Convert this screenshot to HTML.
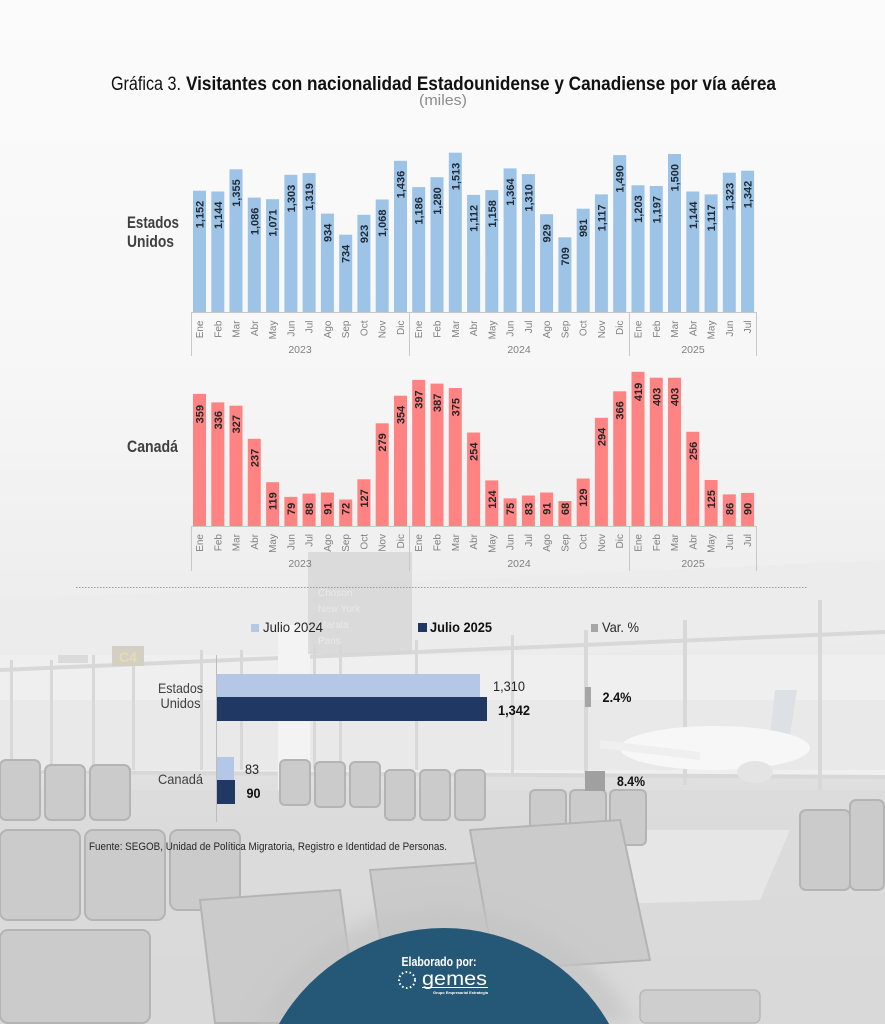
<!DOCTYPE html>
<html><head><meta charset="utf-8">
<style>
html,body{margin:0;padding:0;background:#f8f8f8;width:885px;height:1024px;overflow:hidden;}
svg{display:block;font-family:"Liberation Sans",sans-serif;}
</style></head>
<body>
<svg width="885" height="1024" viewBox="0 0 885 1024" xmlns="http://www.w3.org/2000/svg" overflow="hidden">
<defs>
<linearGradient id="bg" x1="0" y1="0" x2="0" y2="1">
<stop offset="0" stop-color="#fbfbfb"/>
<stop offset="0.35" stop-color="#f7f7f7"/>
<stop offset="0.55" stop-color="#efefef"/>
<stop offset="0.63" stop-color="#ebebeb"/>
<stop offset="0.78" stop-color="#dedede"/>
<stop offset="1" stop-color="#d6d6d6"/>
</linearGradient>
<filter id="blur" x="-20%" y="-20%" width="140%" height="140%"><feGaussianBlur stdDeviation="9"/></filter>
<clipPath id="frame"><rect x="0" y="0" width="885" height="1024"/></clipPath>
</defs>
<g clip-path="url(#frame)">
<rect x="0" y="0" width="885" height="1024" fill="url(#bg)"/>

<!-- photo approximation -->
<polygon points="0,600 885,560 885,640 0,680" fill="#ececec"/>
<rect x="0" y="655" width="885" height="120" fill="#efefef"/>
<rect x="0" y="700" width="885" height="70" fill="#e9e9e9"/>
<g fill="#d8d8d8">
<rect x="10" y="660" width="3" height="110"/><rect x="50" y="660" width="3" height="110"/>
<rect x="92" y="655" width="3" height="115"/><rect x="132" y="655" width="3" height="115"/>
<rect x="200" y="650" width="3" height="120"/><rect x="240" y="650" width="3" height="120"/>
<rect x="313" y="645" width="3" height="125"/><rect x="339" y="645" width="3" height="125"/>
<rect x="415" y="640" width="3" height="130"/><rect x="511" y="635" width="3" height="140"/>
<rect x="584" y="630" width="4" height="150"/><rect x="683" y="620" width="4" height="165"/>
<rect x="818" y="600" width="4" height="190"/>
<polygon points="0,668 885,630 885,634 0,672"/>
<polygon points="0,770 885,775 885,779 0,774"/>
</g>
<rect x="278" y="625" width="32" height="165" fill="#f3f3f3"/>
<rect x="308" y="552" width="104" height="102" fill="#d6d6d6" opacity="0.8"/>
<g fill="#e9e9e9" font-size="10">
<text x="318" y="596">Choson</text><text x="318" y="612">New York</text>
<text x="318" y="628">Marala</text><text x="318" y="644">Paris</text>
</g>
<rect x="112" y="646" width="32" height="20" fill="#d3cfc2"/>
<text x="128" y="662" font-size="14" font-weight="bold" fill="#e6dcb4" text-anchor="middle">C4</text>
<rect x="58" y="655" width="30" height="8" fill="#dadada"/>
<!-- airplane -->
<polygon points="775,690 797,690 790,735 770,738" fill="#dde0e4"/>
<ellipse cx="715" cy="748" rx="95" ry="22" fill="#f7f7f7"/>
<ellipse cx="755" cy="772" rx="18" ry="11" fill="#e4e4e4"/>
<polygon points="600,740 700,752 700,760 600,748" fill="#efefef"/>
<!-- floor / chairs -->
<rect x="0" y="790" width="885" height="234" fill="#dadada" opacity="0.6"/>
<polygon points="600,830 790,830 760,900 570,905" fill="#e6e6e6"/>
<g fill="#cbcbcb" stroke="#b4b4b4" stroke-width="2">
<rect x="0" y="760" width="40" height="60" rx="6"/>
<rect x="45" y="765" width="40" height="55" rx="6"/>
<rect x="90" y="765" width="40" height="55" rx="6"/>
<rect x="0" y="830" width="80" height="90" rx="8"/>
<rect x="85" y="830" width="80" height="90" rx="8"/>
<rect x="170" y="830" width="70" height="80" rx="8"/>
<rect x="0" y="930" width="150" height="93" rx="8"/>
<rect x="280" y="760" width="30" height="45" rx="5"/>
<rect x="315" y="762" width="30" height="45" rx="5"/>
<rect x="350" y="762" width="30" height="45" rx="5"/>
<rect x="385" y="770" width="30" height="50" rx="5"/>
<rect x="420" y="770" width="30" height="50" rx="5"/>
<rect x="455" y="770" width="30" height="50" rx="5"/>
<rect x="530" y="790" width="36" height="55" rx="5"/>
<rect x="570" y="790" width="36" height="55" rx="5"/>
<rect x="610" y="790" width="36" height="55" rx="5"/>
<rect x="800" y="810" width="50" height="80" rx="6"/>
<rect x="850" y="800" width="34" height="90" rx="6"/>
<polygon points="200,900 340,890 358,1023 215,1023"/>
<polygon points="370,870 520,860 545,1000 390,1010"/>
<polygon points="470,830 620,820 650,960 495,970"/>
</g>
<g fill="#cecece" stroke="#b8b8b8" stroke-width="1.5">
<rect x="640" y="990" width="120" height="33" rx="6"/>
</g>

<!-- title -->
<text x="111" y="90" font-size="19" fill="#111" textLength="70" lengthAdjust="spacingAndGlyphs">Gráfica 3.</text>
<text x="186" y="90" font-size="19" font-weight="bold" fill="#111" textLength="590" lengthAdjust="spacingAndGlyphs">Visitantes con nacionalidad Estadounidense y Canadiense por vía aérea</text>
<text x="443" y="105" font-size="15" fill="#8c8c8c" text-anchor="middle" textLength="48" lengthAdjust="spacingAndGlyphs">(miles)</text>

<!-- left labels -->
<g font-size="17" font-weight="bold" fill="#404040">
<text x="127" y="228" textLength="52" lengthAdjust="spacingAndGlyphs">Estados</text>
<text x="127" y="247" textLength="47" lengthAdjust="spacingAndGlyphs">Unidos</text>
<text x="127" y="452" textLength="51" lengthAdjust="spacingAndGlyphs">Canadá</text>
</g>

<!-- US chart -->
<g fill="#9dc3e6">
<rect x="193.0" y="190.7" width="13" height="121.3"/>
<rect x="211.3" y="191.5" width="13" height="120.5"/>
<rect x="229.5" y="169.3" width="13" height="142.7"/>
<rect x="247.8" y="197.6" width="13" height="114.4"/>
<rect x="266.1" y="199.2" width="13" height="112.8"/>
<rect x="284.4" y="174.8" width="13" height="137.2"/>
<rect x="302.6" y="173.1" width="13" height="138.9"/>
<rect x="320.9" y="213.6" width="13" height="98.4"/>
<rect x="339.2" y="234.7" width="13" height="77.3"/>
<rect x="357.4" y="214.8" width="13" height="97.2"/>
<rect x="375.7" y="199.5" width="13" height="112.5"/>
<rect x="394.0" y="160.8" width="13" height="151.2"/>
<rect x="412.2" y="187.1" width="13" height="124.9"/>
<rect x="430.5" y="177.2" width="13" height="134.8"/>
<rect x="448.8" y="152.7" width="13" height="159.3"/>
<rect x="467.1" y="194.9" width="13" height="117.1"/>
<rect x="485.3" y="190.1" width="13" height="121.9"/>
<rect x="503.6" y="168.4" width="13" height="143.6"/>
<rect x="521.9" y="174.1" width="13" height="137.9"/>
<rect x="540.1" y="214.2" width="13" height="97.8"/>
<rect x="558.4" y="237.3" width="13" height="74.7"/>
<rect x="576.7" y="208.7" width="13" height="103.3"/>
<rect x="594.9" y="194.4" width="13" height="117.6"/>
<rect x="613.2" y="155.1" width="13" height="156.9"/>
<rect x="631.5" y="185.3" width="13" height="126.7"/>
<rect x="649.8" y="186.0" width="13" height="126.0"/>
<rect x="668.0" y="154.0" width="13" height="158.0"/>
<rect x="686.3" y="191.5" width="13" height="120.5"/>
<rect x="704.6" y="194.4" width="13" height="117.6"/>
<rect x="722.8" y="172.7" width="13" height="139.3"/>
<rect x="741.1" y="170.7" width="13" height="141.3"/>
</g>
<g font-size="11" font-weight="bold" fill="#1e2a36" text-anchor="end">
<text transform="translate(199.5,200.7) rotate(-90)" y="4">1,152</text>
<text transform="translate(217.8,201.5) rotate(-90)" y="4">1,144</text>
<text transform="translate(236.0,179.3) rotate(-90)" y="4">1,355</text>
<text transform="translate(254.3,207.6) rotate(-90)" y="4">1,086</text>
<text transform="translate(272.6,209.2) rotate(-90)" y="4">1,071</text>
<text transform="translate(290.9,184.8) rotate(-90)" y="4">1,303</text>
<text transform="translate(309.1,183.1) rotate(-90)" y="4">1,319</text>
<text transform="translate(327.4,223.6) rotate(-90)" y="4">934</text>
<text transform="translate(345.7,244.7) rotate(-90)" y="4">734</text>
<text transform="translate(363.9,224.8) rotate(-90)" y="4">923</text>
<text transform="translate(382.2,209.5) rotate(-90)" y="4">1,068</text>
<text transform="translate(400.5,170.8) rotate(-90)" y="4">1,436</text>
<text transform="translate(418.7,197.1) rotate(-90)" y="4">1,186</text>
<text transform="translate(437.0,187.2) rotate(-90)" y="4">1,280</text>
<text transform="translate(455.3,162.7) rotate(-90)" y="4">1,513</text>
<text transform="translate(473.6,204.9) rotate(-90)" y="4">1,112</text>
<text transform="translate(491.8,200.1) rotate(-90)" y="4">1,158</text>
<text transform="translate(510.1,178.4) rotate(-90)" y="4">1,364</text>
<text transform="translate(528.4,184.1) rotate(-90)" y="4">1,310</text>
<text transform="translate(546.6,224.2) rotate(-90)" y="4">929</text>
<text transform="translate(564.9,247.3) rotate(-90)" y="4">709</text>
<text transform="translate(583.2,218.7) rotate(-90)" y="4">981</text>
<text transform="translate(601.4,204.4) rotate(-90)" y="4">1,117</text>
<text transform="translate(619.7,165.1) rotate(-90)" y="4">1,490</text>
<text transform="translate(638.0,195.3) rotate(-90)" y="4">1,203</text>
<text transform="translate(656.3,196.0) rotate(-90)" y="4">1,197</text>
<text transform="translate(674.5,164.0) rotate(-90)" y="4">1,500</text>
<text transform="translate(692.8,201.5) rotate(-90)" y="4">1,144</text>
<text transform="translate(711.1,204.4) rotate(-90)" y="4">1,117</text>
<text transform="translate(729.3,182.7) rotate(-90)" y="4">1,323</text>
<text transform="translate(747.6,180.7) rotate(-90)" y="4">1,342</text>
</g>
<g stroke="#c8c8c8" stroke-width="1" fill="none">
<line x1="191" y1="312.5" x2="757" y2="312.5"/>
<line x1="191.5" y1="312" x2="191.5" y2="356"/>
<line x1="409.5" y1="312" x2="409.5" y2="356"/>
<line x1="629.5" y1="312" x2="629.5" y2="356"/>
<line x1="756.5" y1="312" x2="756.5" y2="356"/>
</g>
<g font-size="10" fill="#808080" text-anchor="end">
<text transform="translate(203,320.5) rotate(-90)">Ene</text>
<text transform="translate(221.3,320.5) rotate(-90)">Feb</text>
<text transform="translate(239.5,320.5) rotate(-90)">Mar</text>
<text transform="translate(257.8,320.5) rotate(-90)">Abr</text>
<text transform="translate(276.1,320.5) rotate(-90)">May</text>
<text transform="translate(294.4,320.5) rotate(-90)">Jun</text>
<text transform="translate(312.6,320.5) rotate(-90)">Jul</text>
<text transform="translate(330.9,320.5) rotate(-90)">Ago</text>
<text transform="translate(349.2,320.5) rotate(-90)">Sep</text>
<text transform="translate(367.4,320.5) rotate(-90)">Oct</text>
<text transform="translate(385.7,320.5) rotate(-90)">Nov</text>
<text transform="translate(404.0,320.5) rotate(-90)">Dic</text>
<text transform="translate(422.2,320.5) rotate(-90)">Ene</text>
<text transform="translate(440.5,320.5) rotate(-90)">Feb</text>
<text transform="translate(458.8,320.5) rotate(-90)">Mar</text>
<text transform="translate(477.1,320.5) rotate(-90)">Abr</text>
<text transform="translate(495.3,320.5) rotate(-90)">May</text>
<text transform="translate(513.6,320.5) rotate(-90)">Jun</text>
<text transform="translate(531.9,320.5) rotate(-90)">Jul</text>
<text transform="translate(550.1,320.5) rotate(-90)">Ago</text>
<text transform="translate(568.4,320.5) rotate(-90)">Sep</text>
<text transform="translate(586.7,320.5) rotate(-90)">Oct</text>
<text transform="translate(604.9,320.5) rotate(-90)">Nov</text>
<text transform="translate(623.2,320.5) rotate(-90)">Dic</text>
<text transform="translate(641.5,320.5) rotate(-90)">Ene</text>
<text transform="translate(659.8,320.5) rotate(-90)">Feb</text>
<text transform="translate(678.0,320.5) rotate(-90)">Mar</text>
<text transform="translate(696.3,320.5) rotate(-90)">Abr</text>
<text transform="translate(714.6,320.5) rotate(-90)">May</text>
<text transform="translate(732.8,320.5) rotate(-90)">Jun</text>
<text transform="translate(751.1,320.5) rotate(-90)">Jul</text>
</g>
<g font-size="10.5" fill="#808080" text-anchor="middle">
<text x="300" y="353">2023</text><text x="519" y="353">2024</text><text x="693" y="353">2025</text>
</g>

<!-- Canada chart -->
<g fill="#ff8383">
<rect x="193.0" y="393.9" width="13" height="132.1"/>
<rect x="211.3" y="402.4" width="13" height="123.6"/>
<rect x="229.5" y="405.7" width="13" height="120.3"/>
<rect x="247.8" y="438.8" width="13" height="87.2"/>
<rect x="266.1" y="482.2" width="13" height="43.8"/>
<rect x="284.4" y="496.9" width="13" height="29.1"/>
<rect x="302.6" y="493.6" width="13" height="32.4"/>
<rect x="320.9" y="492.5" width="13" height="33.5"/>
<rect x="339.2" y="499.5" width="13" height="26.5"/>
<rect x="357.4" y="479.3" width="13" height="46.7"/>
<rect x="375.7" y="423.3" width="13" height="102.7"/>
<rect x="394.0" y="395.7" width="13" height="130.3"/>
<rect x="412.2" y="379.9" width="13" height="146.1"/>
<rect x="430.5" y="383.6" width="13" height="142.4"/>
<rect x="448.8" y="388.0" width="13" height="138.0"/>
<rect x="467.1" y="432.5" width="13" height="93.5"/>
<rect x="485.3" y="480.4" width="13" height="45.6"/>
<rect x="503.6" y="498.4" width="13" height="27.6"/>
<rect x="521.9" y="495.5" width="13" height="30.5"/>
<rect x="540.1" y="492.5" width="13" height="33.5"/>
<rect x="558.4" y="501.0" width="13" height="25.0"/>
<rect x="576.7" y="478.5" width="13" height="47.5"/>
<rect x="594.9" y="417.8" width="13" height="108.2"/>
<rect x="613.2" y="391.3" width="13" height="134.7"/>
<rect x="631.5" y="371.8" width="13" height="154.2"/>
<rect x="649.8" y="377.7" width="13" height="148.3"/>
<rect x="668.0" y="377.7" width="13" height="148.3"/>
<rect x="686.3" y="431.8" width="13" height="94.2"/>
<rect x="704.6" y="480.0" width="13" height="46.0"/>
<rect x="722.8" y="494.4" width="13" height="31.6"/>
<rect x="741.1" y="492.9" width="13" height="33.1"/>
</g>
<g font-size="11" font-weight="bold" fill="#262626" text-anchor="end">
<text transform="translate(199.5,405) rotate(-90)" y="4">359</text>
<text transform="translate(217.8,411) rotate(-90)" y="4">336</text>
<text transform="translate(236.0,415) rotate(-90)" y="4">327</text>
<text transform="translate(254.3,448.8) rotate(-90)" y="4">237</text>
<text transform="translate(272.6,492.2) rotate(-90)" y="4">119</text>
<text transform="translate(290.9,502.7) rotate(-90)" y="4">79</text>
<text transform="translate(309.1,502.7) rotate(-90)" y="4">88</text>
<text transform="translate(327.4,502.5) rotate(-90)" y="4">91</text>
<text transform="translate(345.7,502.7) rotate(-90)" y="4">72</text>
<text transform="translate(363.9,489.3) rotate(-90)" y="4">127</text>
<text transform="translate(382.2,433.3) rotate(-90)" y="4">279</text>
<text transform="translate(400.5,405.7) rotate(-90)" y="4">354</text>
<text transform="translate(418.7,390.4) rotate(-90)" y="4">397</text>
<text transform="translate(437.0,393.6) rotate(-90)" y="4">387</text>
<text transform="translate(455.3,398.0) rotate(-90)" y="4">375</text>
<text transform="translate(473.6,442.5) rotate(-90)" y="4">254</text>
<text transform="translate(491.8,490.4) rotate(-90)" y="4">124</text>
<text transform="translate(510.1,502.7) rotate(-90)" y="4">75</text>
<text transform="translate(528.4,502.7) rotate(-90)" y="4">83</text>
<text transform="translate(546.6,502.5) rotate(-90)" y="4">91</text>
<text transform="translate(564.9,502.7) rotate(-90)" y="4">68</text>
<text transform="translate(583.2,488.5) rotate(-90)" y="4">129</text>
<text transform="translate(601.4,427.8) rotate(-90)" y="4">294</text>
<text transform="translate(619.7,401.3) rotate(-90)" y="4">366</text>
<text transform="translate(638.0,382.8) rotate(-90)" y="4">419</text>
<text transform="translate(656.3,387.7) rotate(-90)" y="4">403</text>
<text transform="translate(674.5,387.7) rotate(-90)" y="4">403</text>
<text transform="translate(692.8,441.8) rotate(-90)" y="4">256</text>
<text transform="translate(711.1,490.0) rotate(-90)" y="4">125</text>
<text transform="translate(729.3,502.7) rotate(-90)" y="4">86</text>
<text transform="translate(747.6,502.7) rotate(-90)" y="4">90</text>
</g>
<g stroke="#c8c8c8" stroke-width="1" fill="none">
<line x1="191" y1="526.5" x2="757" y2="526.5"/>
<line x1="191.5" y1="526" x2="191.5" y2="571"/>
<line x1="409.5" y1="526" x2="409.5" y2="571"/>
<line x1="629.5" y1="526" x2="629.5" y2="571"/>
<line x1="756.5" y1="526" x2="756.5" y2="571"/>
</g>
<g font-size="10" fill="#808080" text-anchor="end">
<text transform="translate(203,534) rotate(-90)">Ene</text>
<text transform="translate(221.3,534) rotate(-90)">Feb</text>
<text transform="translate(239.5,534) rotate(-90)">Mar</text>
<text transform="translate(257.8,534) rotate(-90)">Abr</text>
<text transform="translate(276.1,534) rotate(-90)">May</text>
<text transform="translate(294.4,534) rotate(-90)">Jun</text>
<text transform="translate(312.6,534) rotate(-90)">Jul</text>
<text transform="translate(330.9,534) rotate(-90)">Ago</text>
<text transform="translate(349.2,534) rotate(-90)">Sep</text>
<text transform="translate(367.4,534) rotate(-90)">Oct</text>
<text transform="translate(385.7,534) rotate(-90)">Nov</text>
<text transform="translate(404.0,534) rotate(-90)">Dic</text>
<text transform="translate(422.2,534) rotate(-90)">Ene</text>
<text transform="translate(440.5,534) rotate(-90)">Feb</text>
<text transform="translate(458.8,534) rotate(-90)">Mar</text>
<text transform="translate(477.1,534) rotate(-90)">Abr</text>
<text transform="translate(495.3,534) rotate(-90)">May</text>
<text transform="translate(513.6,534) rotate(-90)">Jun</text>
<text transform="translate(531.9,534) rotate(-90)">Jul</text>
<text transform="translate(550.1,534) rotate(-90)">Ago</text>
<text transform="translate(568.4,534) rotate(-90)">Sep</text>
<text transform="translate(586.7,534) rotate(-90)">Oct</text>
<text transform="translate(604.9,534) rotate(-90)">Nov</text>
<text transform="translate(623.2,534) rotate(-90)">Dic</text>
<text transform="translate(641.5,534) rotate(-90)">Ene</text>
<text transform="translate(659.8,534) rotate(-90)">Feb</text>
<text transform="translate(678.0,534) rotate(-90)">Mar</text>
<text transform="translate(696.3,534) rotate(-90)">Abr</text>
<text transform="translate(714.6,534) rotate(-90)">May</text>
<text transform="translate(732.8,534) rotate(-90)">Jun</text>
<text transform="translate(751.1,534) rotate(-90)">Jul</text>
</g>
<g font-size="10.5" fill="#808080" text-anchor="middle">
<text x="300" y="567">2023</text><text x="519" y="567">2024</text><text x="693" y="567">2025</text>
</g>

<!-- separator -->
<line x1="76" y1="587.5" x2="807" y2="587.5" stroke="#9a9a9a" stroke-width="1" stroke-dasharray="1.5,1.5"/>

<!-- horizontal chart -->
<rect x="251" y="624" width="8" height="8" fill="#b4c7e7"/>
<text x="263" y="632" font-size="14" fill="#262626" textLength="60" lengthAdjust="spacingAndGlyphs">Julio 2024</text>
<rect x="418" y="623" width="9" height="9" fill="#1f3864"/>
<text x="430" y="632" font-size="14" font-weight="bold" fill="#111" textLength="62" lengthAdjust="spacingAndGlyphs">Julio 2025</text>
<rect x="591" y="624" width="7" height="8" fill="#a6a6a6"/>
<text x="602" y="632" font-size="14" fill="#262626" textLength="37" lengthAdjust="spacingAndGlyphs">Var. %</text>

<line x1="216.5" y1="655" x2="216.5" y2="822" stroke="#bdbdbd" stroke-width="1"/>
<rect x="217" y="674" width="263" height="23" fill="#b4c7e7"/>
<rect x="217" y="697" width="270" height="24" fill="#1f3864"/>
<rect x="217" y="757" width="17" height="23" fill="#b4c7e7"/>
<rect x="217" y="780" width="18" height="24" fill="#1f3864"/>
<rect x="585" y="687" width="6" height="20" fill="#a6a6a6"/>
<rect x="585" y="771" width="20" height="20" fill="#a0a0a0"/>

<g font-size="14" fill="#404040" text-anchor="middle">
<text x="180.5" y="693" textLength="45" lengthAdjust="spacingAndGlyphs">Estados</text>
<text x="180.5" y="708" textLength="40" lengthAdjust="spacingAndGlyphs">Unidos</text>
<text x="180.5" y="784" textLength="45" lengthAdjust="spacingAndGlyphs">Canadá</text>
</g>
<g font-size="14" fill="#262626">
<text x="493" y="691" textLength="32" lengthAdjust="spacingAndGlyphs">1,310</text>
<text x="498" y="715" font-weight="bold" fill="#111" textLength="32" lengthAdjust="spacingAndGlyphs">1,342</text>
<text x="245" y="774" textLength="14" lengthAdjust="spacingAndGlyphs">83</text>
<text x="246.5" y="798" font-weight="bold" fill="#111" textLength="14" lengthAdjust="spacingAndGlyphs">90</text>
<text x="602.5" y="702" font-weight="bold" fill="#111" textLength="29" lengthAdjust="spacingAndGlyphs">2.4%</text>
<text x="617" y="786" font-weight="bold" fill="#111" textLength="28" lengthAdjust="spacingAndGlyphs">8.4%</text>
</g>

<text x="89" y="850" font-size="11" fill="#262626" textLength="358" lengthAdjust="spacingAndGlyphs">Fuente: SEGOB, Unidad de Política Migratoria, Registro e Identidad de Personas.</text>

<!-- footer (arcs clipped at y=1024) -->
<path d="M254,1024 A212,212 0 0 1 634,1024 Z" fill="#c4c4c4" opacity="0.75" filter="url(#blur)"/>
<path d="M278.9,1024 A190,190 0 0 1 609.1,1024 Z" fill="#255876"/>
<text x="439" y="966" font-size="13" font-weight="bold" fill="#ffffff" text-anchor="middle" textLength="75" lengthAdjust="spacingAndGlyphs">Elaborado por:</text>
<circle cx="407" cy="980" r="8" fill="none" stroke="#ffffff" stroke-width="2" stroke-dasharray="1.6,2.4"/>
<text x="422" y="985" font-size="19" fill="#ffffff" textLength="65" lengthAdjust="spacingAndGlyphs">gemes</text>
<line x1="422" y1="987.5" x2="488" y2="987.5" stroke="#ffffff" stroke-width="1"/>
<text x="433" y="994" font-size="4" font-weight="bold" fill="#ffffff" textLength="55" lengthAdjust="spacingAndGlyphs">Grupo Empresarial Estrategia</text>
</g>
</svg>
</body></html>
